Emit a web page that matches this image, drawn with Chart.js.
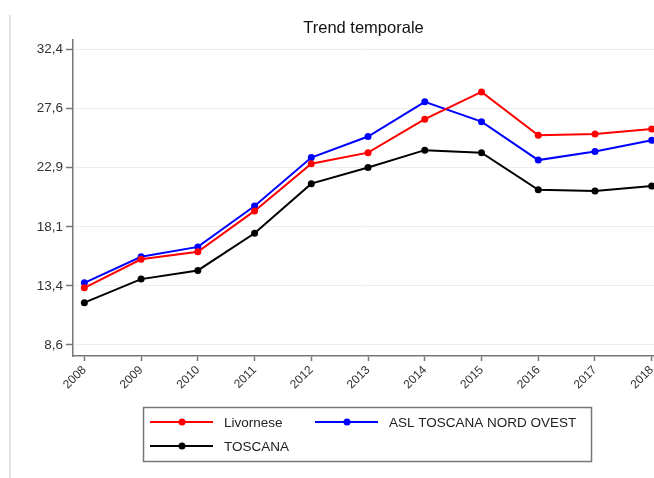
<!DOCTYPE html>
<html>
<head>
<meta charset="utf-8">
<script src="https://cdn.jsdelivr.net/npm/chart.js@4"></script>
<style>
  html, body { margin: 0; padding: 0; background: #fff; }
  canvas { display: block; }
</style>
</head>
<body>
<canvas id="trendChart" width="654" height="478"></canvas>
<script>
// values
const years = [2008, 2009, 2010, 2011, 2012, 2013, 2014, 2015, 2016, 2017, 2018];
const livornese = [13.2, 15.5, 16.1, 19.4, 23.2, 24.1, 26.8, 29.0, 25.5, 25.6, 26.0];
const aslNordOvest = [13.6, 15.7, 16.5, 19.8, 23.7, 25.4, 28.2, 26.6, 23.5, 24.2, 25.1];
const toscana = [12.0, 13.9, 14.6, 17.6, 21.6, 22.9, 24.3, 24.1, 21.1, 21.0, 21.4];
const seriesNames = ['Livornese', 'ASL TOSCANA NORD OVEST', 'TOSCANA'];
const seriesColors = ['#ff0000', '#0000ff', '#000000'];
const yTicks = [8.6, 13.36, 18.12, 22.88, 27.64, 32.4];
const yTickLabels = ['8,6', '13,4', '18,1', '22,9', '27,6', '32,4'];

const FONT = '"Liberation Sans", Arial, sans-serif';
Chart.defaults.font.family = FONT;
Chart.defaults.color = '#333';

const toPoints = vals => vals.map((v, i) => ({ x: years[i], y: v }));

// thin grey frame line on the left like the original image
const frameLine = {
  id: 'frameLine',
  beforeDraw(chart) {
    const ctx = chart.ctx;
    ctx.save();
    ctx.fillStyle = '#fff';
    ctx.fillRect(0, 0, chart.width, chart.height);
    ctx.strokeStyle = '#e2e2e2';
    ctx.lineWidth = 2;
    ctx.beginPath();
    ctx.moveTo(10, 15);
    ctx.lineTo(10, chart.height);
    ctx.stroke();
    ctx.restore();
  }
};

// boxed legend, two columns
const boxLegend = {
  id: 'boxLegend',
  afterDraw(chart) {
    const ctx = chart.ctx;
    const slots = [[150, 422], [315, 422], [150, 446]];
    ctx.save();
    ctx.strokeStyle = '#777';
    ctx.lineWidth = 1.5;
    ctx.strokeRect(143.5, 407.5, 448, 54);
    ctx.font = '13.5px ' + FONT;
    ctx.textBaseline = 'middle';
    chart.data.datasets.forEach((d, i) => {
      const [x, y] = slots[i];
      ctx.strokeStyle = d.borderColor;
      ctx.lineWidth = 2;
      ctx.beginPath();
      ctx.moveTo(x, y);
      ctx.lineTo(x + 63, y);
      ctx.stroke();
      ctx.fillStyle = d.borderColor;
      ctx.beginPath();
      ctx.arc(x + 32, y, 3.5, 0, Math.PI * 2);
      ctx.fill();
      ctx.fillStyle = '#222';
      ctx.fillText(d.label, x + 74, y + 1);
    });
    ctx.restore();
  }
};

const datasets = [livornese, aslNordOvest, toscana].map((vals, i) => ({
  label: seriesNames[i],
  data: toPoints(vals),
  borderColor: seriesColors[i],
  backgroundColor: seriesColors[i],
  borderWidth: 2,
  pointRadius: 3.5,
  pointBorderWidth: 0,
  pointHoverRadius: 3.5,
  tension: 0,
  clip: false
}));

new Chart(document.getElementById('trendChart'), {
  type: 'line',
  data: { datasets },
  options: {
    responsive: false,
    animation: false,
    events: [],
    layout: { autoPadding: false, padding: { left: 0, right: 0, top: 0, bottom: 82 } },
    plugins: {
      legend: { display: false },
      tooltip: { enabled: false },
      title: {
        display: true,
        text: 'Trend temporale',
        fullSize: false,
        color: '#111',
        font: { size: 16.5, weight: 'normal', family: FONT },
        padding: { top: 19, bottom: 1 }
      }
    },
    scales: {
      x: {
        type: 'linear',
        min: 2007.8,
        max: 2018.04,
        afterBuildTicks: s => { s.ticks = years.map(v => ({ value: v })); },
        afterFit: s => { s.height = 40; s.paddingRight = 0; s.paddingLeft = 0; },
        border: { color: '#777', width: 1.5 },
        grid: { drawOnChartArea: false, tickColor: '#777', tickLength: 5, tickWidth: 1.5 },
        ticks: {
          minRotation: 45,
          maxRotation: 45,
          padding: 2,
          font: { size: 12 },
          callback: v => String(v)
        }
      },
      y: {
        min: 7.7,
        max: 33.2,
        afterBuildTicks: s => { s.ticks = yTicks.map(v => ({ value: v })); },
        afterFit: s => { s.width = 73; },
        border: { color: '#777', width: 1.5 },
        grid: { color: '#eeeeee', lineWidth: 1, tickColor: '#777', tickLength: 7, tickWidth: 1.5 },
        ticks: {
          padding: 3,
          font: { size: 13.5 },
          callback: (v, i) => yTickLabels[i]
        }
      }
    }
  },
  plugins: [frameLine, boxLegend]
});
</script>
</body>
</html>
